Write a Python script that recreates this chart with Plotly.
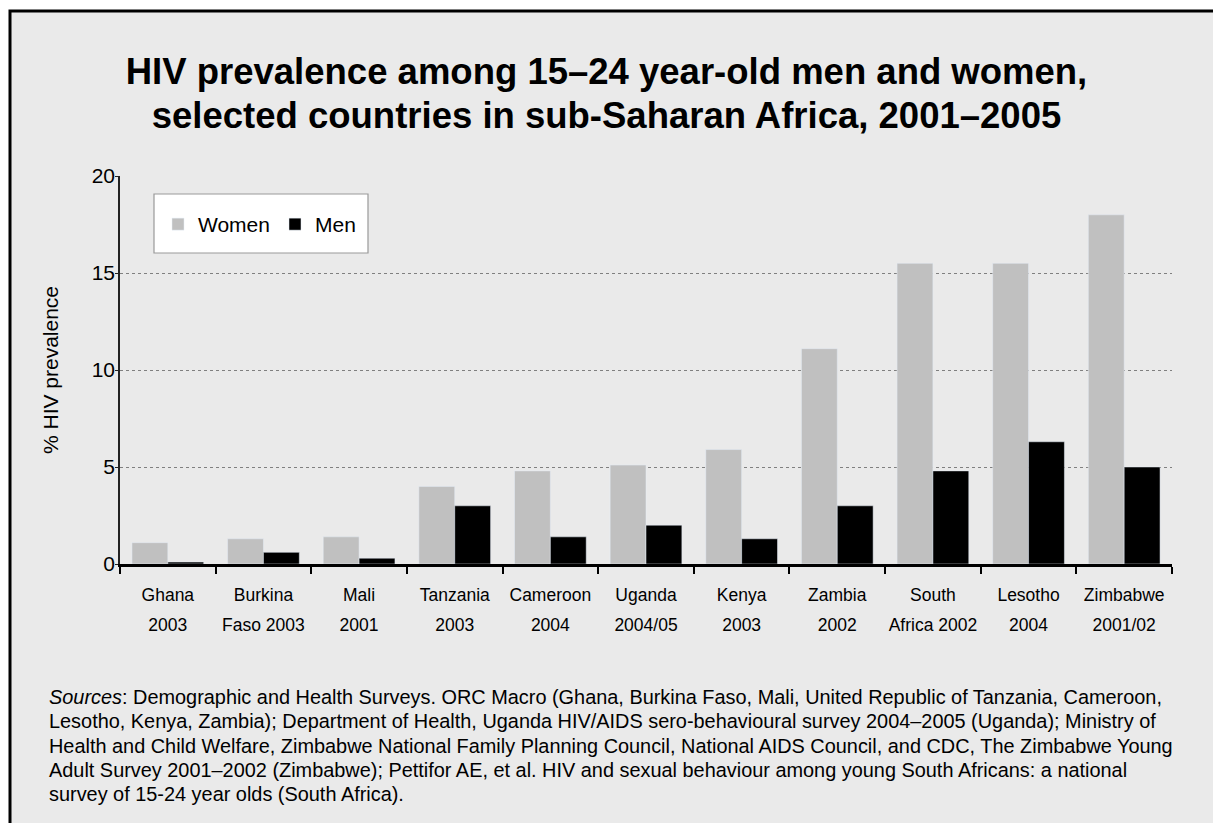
import plotly.graph_objects as go

# ---- data ----
categories = ["Ghana<br>2003", "Burkina<br>Faso 2003", "Mali<br>2001", "Tanzania<br>2003",
              "Cameroon<br>2004", "Uganda<br>2004/05", "Kenya<br>2003", "Zambia<br>2002",
              "South<br>Africa 2002", "Lesotho<br>2004", "Zimbabwe<br>2001/02"]
women = [1.1, 1.3, 1.4, 4.0, 4.8, 5.1, 5.9, 11.1, 15.5, 15.5, 18.0]
men = [0.1, 0.6, 0.3, 3.0, 1.4, 2.0, 1.3, 3.0, 4.8, 6.3, 5.0]
y_ticks = [0, 5, 10, 15, 20]

title_lines = ["HIV prevalence among 15\u201324 year-old men and women,",
               "selected countries in sub-Saharan Africa, 2001\u20132005"]
sources_lines = ["<i>Sources</i>: Demographic and Health Surveys. ORC Macro (Ghana, Burkina Faso, Mali, United Republic of Tanzania, Cameroon,",
                 "Lesotho, Kenya, Zambia); Department of Health, Uganda HIV/AIDS sero-behavioural survey 2004\u20132005 (Uganda); Ministry of",
                 "Health and Child Welfare, Zimbabwe National Family Planning Council, National AIDS Council, and CDC, The Zimbabwe Young",
                 "Adult Survey 2001\u20132002 (Zimbabwe); Pettifor AE, et al. HIV and sexual behaviour among young South Africans: a national",
                 "survey of 15-24 year olds (South Africa)."]

# ---- layout geometry ----
W, H = 1213, 823
ML, MR, MT, MB = 120, 41, 176, 259
PW, PH = W - ML - MR, H - MT - MB
BG = "#EAEAEA"
SANS = "Liberation Sans, Arial, Helvetica, sans-serif"


def px_x(p):
    return (p - ML) / PW


def px_y(p):
    return (H - MB - p) / PH


def sized(lines, size):
    # keep text at `size` while the line pitch follows the element's base font size
    return "<br>".join("<span style='font-size:%spx'>%s</span>" % (size, ln) for ln in lines)


tick_text = [sized(c.split("<br>"), 17.5) for c in categories]

fig = go.Figure()
fig.add_trace(go.Bar(name="Women", x=categories, y=women, marker_color="#C0C0C0"))
fig.add_trace(go.Bar(name="Men", x=categories, y=men, marker_color="#000000"))

fig.update_layout(
    width=W, height=H,
    margin=dict(l=ML, r=MR, t=MT, b=MB, autoexpand=False),
    paper_bgcolor="white",
    plot_bgcolor=BG,
    barmode="group", bargap=0.25, bargroupgap=0,
    font=dict(family=SANS, color="black"),
    title=dict(text=sized(title_lines, 36.5),
               font=dict(family=SANS, size=33.5, color="black", weight="bold"),
               x=0.5, xref="container", xanchor="center",
               y=1 - 84 / H, yref="container", yanchor="top"),
    showlegend=True,
    legend=dict(orientation="h", x=px_x(158), y=px_y(204), xanchor="left", yanchor="top",
                bgcolor="rgba(0,0,0,0)", borderwidth=0, font=dict(size=21, family=SANS)),
    xaxis=dict(
        tickmode="array", tickvals=categories, ticktext=tick_text, tickangle=0,
        tickfont=dict(family=SANS, size=23, color="black"), ticklabelstandoff=6,
        showline=True, linecolor="black", linewidth=3,
        ticks="outside", tickson="boundaries", ticklen=7, tickwidth=1.5, tickcolor="black",
        showgrid=False, automargin=False,
    ),
    yaxis=dict(
        range=[0, 20], tickvals=y_ticks, tickfont=dict(size=21, color="black"),
        ticklabelstandoff=-4,
        showline=True, linecolor="#222222", linewidth=1.5,
        ticks="outside", ticklen=3, tickwidth=1, tickcolor="#222222",
        showgrid=True, gridcolor="#808080", griddash="dot", gridwidth=1,
        zeroline=False, automargin=False,
        title=dict(text="% HIV prevalence", font=dict(size=21, color="black"), standoff=27),
    ),
    shapes=[
        # outer frame / background
        dict(type="rect", xref="paper", yref="paper",
             x0=px_x(10), x1=px_x(W + 20), y0=px_y(H + 20), y1=px_y(11),
             fillcolor=BG, line=dict(color="black", width=3), layer="below"),
        # legend box
        dict(type="rect", xref="paper", yref="paper",
             x0=px_x(154), x1=px_x(368), y0=px_y(253), y1=px_y(194),
             fillcolor="white", line=dict(color="#999999", width=1.2), layer="below"),
    ],
    annotations=[
        dict(text=sized(sources_lines, 19.9), xref="paper", yref="paper", x=px_x(47), y=px_y(684),
             xanchor="left", yanchor="top", align="left", showarrow=False,
             font=dict(family=SANS, size=18.7, color="black")),
    ],
)

fig.write_html("out.html", config={"displayModeBar": False},
               post_script="document.body.style.margin='0px';")
